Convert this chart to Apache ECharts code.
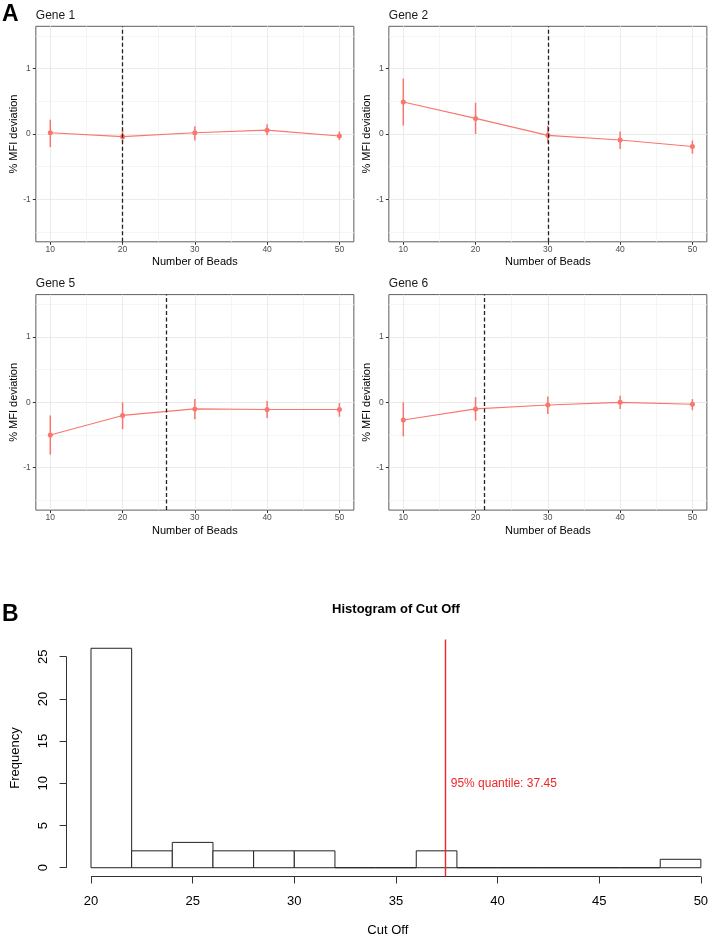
<!DOCTYPE html>
<html>
<head>
<meta charset="utf-8">
<script src="https://cdn.jsdelivr.net/npm/echarts@6/dist/echarts.min.js"></script>
<style>
html,body{margin:0;padding:0;background:#fff;}
#chart{width:709px;height:935px;}
</style>
</head>
<body>
<div id="chart"></div>
<script>
// ---------- Data ----------
const beads = [10, 20, 30, 40, 50];
const xTicks = [10, 20, 30, 40, 50];
const xMinor = [15, 25, 35, 45];
const yTicks = [-1, 0, 1];
const yMinor = [-1.5, -0.5, 0.5, 1.5];

const geneNames = ['Gene 1', 'Gene 2', 'Gene 5', 'Gene 6'];

const gene1Mean = [0.02, -0.04, 0.02, 0.06, -0.03];
const gene1Lo   = [-0.20, -0.12, -0.10, -0.02, -0.09];
const gene1Hi   = [0.22, 0.05, 0.12, 0.15, 0.04];
const gene1Cut  = 20;

const gene2Mean = [0.49, 0.24, -0.02, -0.09, -0.19];
const gene2Lo   = [0.13, 0.00, -0.14, -0.23, -0.30];
const gene2Hi   = [0.85, 0.48, 0.13, 0.04, -0.10];
const gene2Cut  = 30;

const gene5Mean = [-0.50, -0.20, -0.10, -0.11, -0.11];
const gene5Lo   = [-0.80, -0.41, -0.26, -0.24, -0.22];
const gene5Hi   = [-0.20, 0.00, 0.05, 0.02, -0.01];
const gene5Cut  = 26;

const gene6Mean = [-0.27, -0.10, -0.04, 0.00, -0.03];
const gene6Lo   = [-0.52, -0.28, -0.18, -0.10, -0.12];
const gene6Hi   = [0.00, 0.08, 0.09, 0.10, 0.05];
const gene6Cut  = 21.2;

// Histogram
const binStarts = [20, 22, 24, 26, 28, 30, 32, 34, 36, 38, 40, 42, 44, 46, 48];
const binWidth = 2;
const binCounts = [26, 2, 3, 2, 2, 2, 0, 0, 2, 0, 0, 0, 0, 0, 1];
const histXTicks = [20, 25, 30, 35, 40, 45, 50];
const histYTicks = [0, 5, 10, 15, 20, 25];
const quantile95 = 37.45;
const quantileLabel = '95% quantile: 37.45';

// ---------- Build ----------
const FONT = 'Liberation Sans, Arial, sans-serif';
const RED = '#F8766D';
const QRED = '#f0262a';
const genes = [
  {mean: gene1Mean, lo: gene1Lo, hi: gene1Hi, cut: gene1Cut},
  {mean: gene2Mean, lo: gene2Lo, hi: gene2Hi, cut: gene2Cut},
  {mean: gene5Mean, lo: gene5Lo, hi: gene5Hi, cut: gene5Cut},
  {mean: gene6Mean, lo: gene6Lo, hi: gene6Hi, cut: gene6Cut}
];
const panelPos = [
  {left: 35.85, top: 26.3},
  {left: 388.85, top: 26.3},
  {left: 35.85, top: 294.6},
  {left: 388.85, top: 294.6}
];
const PW = 318, PH = 215.5;

const grids = [], xAxes = [], yAxes = [], series = [], titles = [];

titles.push({text: 'A', left: 2, top: 3, padding: 0,
  textStyle: {fontFamily: 'Liberation Sans, Arial', fontSize: 23, fontWeight: 'bold', color: '#000'}});
titles.push({text: 'B', left: 2, top: 603, padding: 0,
  textStyle: {fontFamily: 'Liberation Sans, Arial', fontSize: 23, fontWeight: 'bold', color: '#000'}});

genes.forEach((g, i) => {
  const p = panelPos[i];
  grids.push({left: p.left, top: p.top, width: PW, height: PH, show: true,
    backgroundColor: '#fff', borderColor: '#5e5e5e', borderWidth: 1,
    containLabel: false, outerBoundsMode: 'none'});
  titles.push({text: geneNames[i], left: p.left, top: p.top - 17, padding: 0,
    textStyle: {fontFamily: FONT, fontSize: 12, fontWeight: 'normal', color: '#1a1a1a'}});
  const xi = xAxes.length, yi = yAxes.length;
  xAxes.push({type: 'value', gridIndex: i, min: 8, max: 52, position: 'bottom',
    axisLine: {show: false, onZero: false},
    axisTick: {show: true, length: 3, customValues: xTicks, lineStyle: {color: '#333', width: 1}},
    axisLabel: {show: true, customValues: xTicks, margin: 3.5, fontSize: 8.5, color: '#4d4d4d', fontFamily: FONT},
    splitLine: {show: true, lineStyle: {color: '#ebebeb', width: 1.1}},
    name: 'Number of Beads', nameLocation: 'middle', nameGap: 15,
    nameTextStyle: {fontSize: 11, color: '#000', fontFamily: FONT}
  });
  xAxes.push({type: 'value', gridIndex: i, min: 8, max: 52, position: 'bottom',
    axisLine: {show: false, onZero: false},
    axisTick: {show: false, customValues: xMinor},
    axisLabel: {show: false, customValues: xMinor},
    splitLine: {show: true, lineStyle: {color: '#f2f2f2', width: 0.8}}
  });
  yAxes.push({type: 'value', gridIndex: i, min: -1.65, max: 1.65, position: 'left',
    axisLine: {show: false, onZero: false},
    axisTick: {show: true, length: 3, customValues: yTicks, lineStyle: {color: '#333', width: 1}},
    axisLabel: {show: true, customValues: yTicks, margin: 5, fontSize: 8.5, color: '#4d4d4d', fontFamily: FONT},
    splitLine: {show: true, lineStyle: {color: '#ebebeb', width: 1.1}},
    name: '% MFI deviation', nameLocation: 'middle', nameGap: 13, nameRotate: 90,
    nameTextStyle: {fontSize: 11, color: '#000', fontFamily: FONT}
  });
  yAxes.push({type: 'value', gridIndex: i, min: -1.65, max: 1.65, position: 'left',
    axisLine: {show: false, onZero: false},
    axisTick: {show: false, customValues: yMinor},
    axisLabel: {show: false, customValues: yMinor},
    splitLine: {show: true, lineStyle: {color: '#f2f2f2', width: 0.8}}
  });

  series.push({type: 'custom', xAxisIndex: xi, yAxisIndex: yi, z: 3, silent: true,
    data: beads.map((b, k) => [b, g.lo[k], g.hi[k]]),
    encode: {x: 0, y: [1, 2]},
    renderItem: (params, api) => {
      const a = api.coord([api.value(0), api.value(1)]);
      const b = api.coord([api.value(0), api.value(2)]);
      return {type: 'line', shape: {x1: a[0], y1: a[1], x2: b[0], y2: b[1]},
        style: {stroke: RED, lineWidth: 1.5}};
    }
  });
  series.push({type: 'line', xAxisIndex: xi, yAxisIndex: yi, z: 4, silent: true,
    data: beads.map((b, k) => [b, g.mean[k]]),
    symbol: 'circle', symbolSize: 5, showSymbol: true,
    itemStyle: {color: RED}, lineStyle: {color: RED, width: 1.1},
    animation: false,
    markLine: {silent: true, symbol: 'none', animation: false,
      label: {show: false},
      lineStyle: {color: '#222', type: [4, 2.5], width: 1.3},
      data: [{xAxis: g.cut}]}
  });
});

// Histogram panel
const hg = grids.length;
grids.push({left: 66.6, top: 639.5, right: 0, bottom: 58.5, show: false,
  containLabel: false, outerBoundsMode: 'none'});
const hx = xAxes.length, hy = yAxes.length;
xAxes.push({type: 'value', gridIndex: hg, min: 18.8, max: 50.4, position: 'bottom',
  axisLine: {show: false, onZero: false},
  axisTick: {show: true, length: 7, customValues: histXTicks, lineStyle: {color: '#333', width: 1}},
  axisLabel: {show: true, customValues: histXTicks, margin: 18, fontSize: 13, color: '#000', fontFamily: FONT},
  splitLine: {show: false},
  name: 'Cut Off', nameLocation: 'middle', nameGap: 47,
  nameTextStyle: {fontSize: 13, color: '#000', fontFamily: FONT}
});
yAxes.push({type: 'value', gridIndex: hg, min: -1.04, max: 27.04, position: 'left',
  axisLine: {show: false, onZero: false},
  axisTick: {show: true, length: 7, customValues: histYTicks, lineStyle: {color: '#333', width: 1}},
  axisLabel: {show: true, customValues: histYTicks, margin: 17, rotate: 90, fontSize: 13, color: '#000', fontFamily: FONT},
  splitLine: {show: false},
  name: 'Frequency', nameLocation: 'middle', nameGap: 45, nameRotate: 90,
  nameTextStyle: {fontSize: 13, color: '#000', fontFamily: FONT}
});
titles.push({text: 'Histogram of Cut Off', left: 396, top: 603, padding: 0, textAlign: 'center',
  textStyle: {fontFamily: FONT, fontSize: 13, fontWeight: 'bold', color: '#000'}});

series.push({type: 'custom', xAxisIndex: hx, yAxisIndex: hy, silent: true, z: 2,
  data: binStarts.map((s, k) => [s, s + binWidth, binCounts[k]]),
  encode: {x: [0, 1], y: 2},
  renderItem: (params, api) => {
    const p0 = api.coord([api.value(0), 0]);
    const p1 = api.coord([api.value(1), api.value(2)]);
    return {type: 'rect',
      shape: {x: p0[0], y: p1[1], width: p1[0] - p0[0], height: p0[1] - p1[1]},
      style: {fill: '#fff', stroke: '#222', lineWidth: 1}};
  },
  markLine: {silent: true, symbol: 'none', animation: false, label: {show: false},
    data: [
      [{coord: [histXTicks[0], -1.04], lineStyle: {color: '#333', width: 1, type: 'solid'}},
       {coord: [histXTicks[histXTicks.length - 1], -1.04]}],
      [{coord: [18.8, histYTicks[0]], lineStyle: {color: '#333', width: 1, type: 'solid'}},
       {coord: [18.8, histYTicks[histYTicks.length - 1]]}]
    ]},
  markPoint: {silent: true, animation: false, symbol: 'circle', symbolSize: 0,
    data: [{coord: [quantile95, 10], value: quantileLabel,
      label: {show: true, position: 'right', distance: 5, formatter: quantileLabel,
        color: QRED, fontSize: 12, fontFamily: FONT}}]}
});
// 95% quantile vertical line (separate series so it takes its own colour)
series.push({type: 'line', xAxisIndex: hx, yAxisIndex: hy, z: 5, silent: true,
  data: [], showSymbol: false, itemStyle: {color: QRED},
  markLine: {silent: true, symbol: 'none', animation: false, label: {show: false},
    lineStyle: {color: QRED, width: 1.4, type: 'solid', opacity: 1},
    data: [{xAxis: quantile95}]}
});

const chart = echarts.init(document.getElementById('chart'), null, {renderer: 'canvas'});
chart.setOption({
  animation: false,
  backgroundColor: '#fff',
  textStyle: {fontFamily: FONT},
  title: titles,
  grid: grids,
  xAxis: xAxes,
  yAxis: yAxes,
  series: series
});
</script>
</body>
</html>
